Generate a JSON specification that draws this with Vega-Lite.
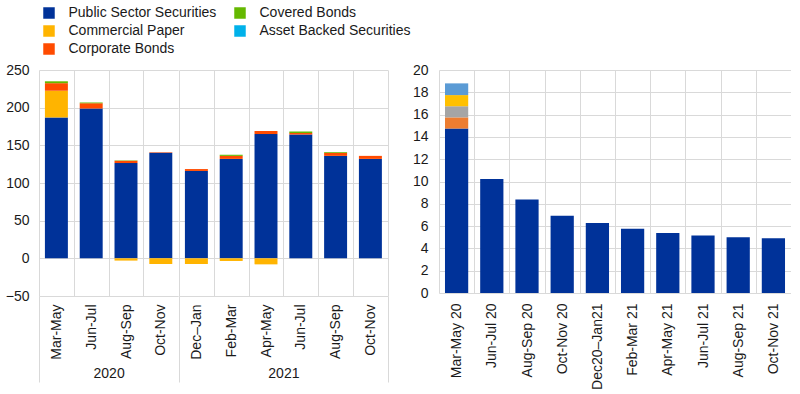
{
  "$schema": "https://vega.github.io/schema/vega-lite/v6.json",
  "padding": {"left": 5, "top": 6, "right": 0, "bottom": 0},
  "config": {
    "font": "Liberation Sans",
    "view": {"stroke": null},
    "axis": {"labelFont": "Liberation Sans", "labelFontSize": 14, "labelColor": "#1a1a1a", "gridColor": "#d9d9d9", "gridWidth": 1, "domain": false, "ticks": false, "titleFont": "Liberation Sans", "titleFontSize": 14, "titleFontWeight": "normal", "titleColor": "#1a1a1a", "minExtent": 0},
    "legend": {"labelFont": "Liberation Sans", "labelFontSize": 14, "labelColor": "#1a1a1a"}
  },
  "datasets": {
    "left": [
      {"year": 2020, "period": "Mar-May", "series": "Public Sector Securities", "k": 1, "value": 187},
      {"year": 2020, "period": "Mar-May", "series": "Commercial Paper", "k": 2, "value": 35.5},
      {"year": 2020, "period": "Mar-May", "series": "Corporate Bonds", "k": 3, "value": 10},
      {"year": 2020, "period": "Mar-May", "series": "Covered Bonds", "k": 4, "value": 2.5},
      {"year": 2020, "period": "Jun-Jul", "series": "Public Sector Securities", "k": 1, "value": 199},
      {"year": 2020, "period": "Jun-Jul", "series": "Corporate Bonds", "k": 3, "value": 7},
      {"year": 2020, "period": "Jun-Jul", "series": "Covered Bonds", "k": 4, "value": 1},
      {"year": 2020, "period": "Aug-Sep", "series": "Public Sector Securities", "k": 1, "value": 126.5},
      {"year": 2020, "period": "Aug-Sep", "series": "Commercial Paper", "k": 2, "value": -3},
      {"year": 2020, "period": "Aug-Sep", "series": "Corporate Bonds", "k": 3, "value": 3},
      {"year": 2020, "period": "Aug-Sep", "series": "Covered Bonds", "k": 4, "value": 0.5},
      {"year": 2020, "period": "Oct-Nov", "series": "Public Sector Securities", "k": 1, "value": 140},
      {"year": 2020, "period": "Oct-Nov", "series": "Commercial Paper", "k": 2, "value": -7.5},
      {"year": 2020, "period": "Oct-Nov", "series": "Corporate Bonds", "k": 3, "value": 0.7},
      {"year": 2021, "period": "Dec–Jan", "series": "Public Sector Securities", "k": 1, "value": 116},
      {"year": 2021, "period": "Dec–Jan", "series": "Commercial Paper", "k": 2, "value": -7.5},
      {"year": 2021, "period": "Dec–Jan", "series": "Corporate Bonds", "k": 3, "value": 2.5},
      {"year": 2021, "period": "Feb-Mar", "series": "Public Sector Securities", "k": 1, "value": 132},
      {"year": 2021, "period": "Feb-Mar", "series": "Commercial Paper", "k": 2, "value": -3.5},
      {"year": 2021, "period": "Feb-Mar", "series": "Corporate Bonds", "k": 3, "value": 4},
      {"year": 2021, "period": "Feb-Mar", "series": "Covered Bonds", "k": 4, "value": 1.5},
      {"year": 2021, "period": "Apr-May", "series": "Public Sector Securities", "k": 1, "value": 165},
      {"year": 2021, "period": "Apr-May", "series": "Commercial Paper", "k": 2, "value": -8},
      {"year": 2021, "period": "Apr-May", "series": "Corporate Bonds", "k": 3, "value": 4},
      {"year": 2021, "period": "Jun-Jul", "series": "Public Sector Securities", "k": 1, "value": 164.5},
      {"year": 2021, "period": "Jun-Jul", "series": "Corporate Bonds", "k": 3, "value": 2},
      {"year": 2021, "period": "Jun-Jul", "series": "Covered Bonds", "k": 4, "value": 2},
      {"year": 2021, "period": "Aug-Sep", "series": "Public Sector Securities", "k": 1, "value": 136},
      {"year": 2021, "period": "Aug-Sep", "series": "Corporate Bonds", "k": 3, "value": 4},
      {"year": 2021, "period": "Aug-Sep", "series": "Covered Bonds", "k": 4, "value": 1},
      {"year": 2021, "period": "Oct-Nov", "series": "Public Sector Securities", "k": 1, "value": 132},
      {"year": 2021, "period": "Oct-Nov", "series": "Corporate Bonds", "k": 3, "value": 4}
    ],
    "right": [
      {"period": "Mar-May 20", "series": "Public Sector Securities", "k": 1, "value": 14.75},
      {"period": "Mar-May 20", "series": "Commercial Paper", "k": 2, "value": 1.0},
      {"period": "Mar-May 20", "series": "Corporate Bonds", "k": 3, "value": 1.0},
      {"period": "Mar-May 20", "series": "Covered Bonds", "k": 4, "value": 1.0},
      {"period": "Mar-May 20", "series": "Asset Backed Securities", "k": 5, "value": 1.05},
      {"period": "Jun-Jul 20", "series": "Public Sector Securities", "k": 1, "value": 10.23},
      {"period": "Aug-Sep 20", "series": "Public Sector Securities", "k": 1, "value": 8.38},
      {"period": "Oct-Nov 20", "series": "Public Sector Securities", "k": 1, "value": 6.92},
      {"period": "Dec20–Jan21", "series": "Public Sector Securities", "k": 1, "value": 6.27},
      {"period": "Feb-Mar 21", "series": "Public Sector Securities", "k": 1, "value": 5.76},
      {"period": "Apr-May 21", "series": "Public Sector Securities", "k": 1, "value": 5.37},
      {"period": "Jun-Jul 21", "series": "Public Sector Securities", "k": 1, "value": 5.16},
      {"period": "Aug-Sep 21", "series": "Public Sector Securities", "k": 1, "value": 5.01},
      {"period": "Oct-Nov 21", "series": "Public Sector Securities", "k": 1, "value": 4.92}
    ]
  },
  "resolve": {"scale": {"color": "shared"}, "legend": {"color": "shared"}},
  "spacing": 23,
  "hconcat": [
    {
      "spacing": -8,
      "resolve": {"scale": {"y": "independent", "x": "independent", "color": "shared"}, "legend": {"color": "shared"}},
      "hconcat": [
        {
          "width": 139.2,
          "height": 226,
          "data": {"name": "left"},
          "transform": [{"filter": "datum.year == 2020"}],
          "mark": {"type": "bar", "width": {"band": 0.66}},
          "encoding": {
            "x": {"field": "period", "type": "nominal", "sort": ["Mar-May", "Jun-Jul", "Aug-Sep", "Oct-Nov"], "scale": {"paddingInner": 0, "paddingOuter": 0},
              "axis": {"title": "2020", "labelAngle": -90, "grid": true, "tickBand": "extent", "ticks": true, "tickSize": 86, "tickColor": "#d9d9d9",
                "tickOpacity": {"condition": {"test": "datum.index == -1", "value": 1}, "value": 0},
                "gridOpacity": {"condition": {"test": "datum.index == 1", "value": 0}, "value": 1},
                "labelPadding": -78, "titleY": 77, "titleBaseline": "middle"}},
            "y": {"field": "value", "type": "quantitative", "stack": true, "scale": {"domain": [-50, 250], "nice": false},
              "axis": {"title": null, "values": [-50, 0, 50, 100, 150, 200, 250], "labelPadding": 10}},
            "color": {"field": "series", "type": "nominal",
              "scale": {"domain": ["Public Sector Securities", "Commercial Paper", "Corporate Bonds", "Covered Bonds", "Asset Backed Securities"],
                "range": ["#003299", "#FFB400", "#FF4B00", "#65B800", "#00B1EA"]},
              "legend": {"title": null, "orient": "none", "legendX": 3, "legendY": -64, "columns": 2, "direction": "vertical", "symbolType": "square", "symbolSize": 132, "symbolStrokeWidth": 0, "labelOffset": 12.5, "rowPadding": 4, "columnPadding": 16, "padding": 0, "labelLimit": 0}},
            "order": {"field": "k", "type": "quantitative"}
          }
        },
        {
          "width": 208.8,
          "height": 226,
          "data": {"name": "left"},
          "transform": [{"filter": "datum.year == 2021"}],
          "mark": {"type": "bar", "width": {"band": 0.66}},
          "encoding": {
            "x": {"field": "period", "type": "nominal", "sort": ["Dec–Jan", "Feb-Mar", "Apr-May", "Jun-Jul", "Aug-Sep", "Oct-Nov"], "scale": {"paddingInner": 0, "paddingOuter": 0},
              "axis": {"title": "2021", "labelAngle": -90, "grid": true, "tickBand": "extent", "ticks": true, "tickSize": 86, "tickColor": "#d9d9d9",
                "tickOpacity": {"condition": {"test": "datum.index == -1 || datum.index == 1", "value": 1}, "value": 0},
                "labelPadding": -78, "titleY": 77, "titleBaseline": "middle"}},
            "y": {"field": "value", "type": "quantitative", "stack": true, "scale": {"domain": [-50, 250], "nice": false},
              "axis": {"title": null, "values": [-50, 0, 50, 100, 150, 200, 250], "labels": false, "labelPadding": 0, "minExtent": 0, "maxExtent": 0}},
            "color": {"field": "series", "type": "nominal",
              "scale": {"domain": ["Public Sector Securities", "Commercial Paper", "Corporate Bonds", "Covered Bonds", "Asset Backed Securities"],
                "range": ["#003299", "#FFB400", "#FF4B00", "#65B800", "#00B1EA"]}},
            "order": {"field": "k", "type": "quantitative"}
          }
        }
      ]
    },
    {
      "width": 352,
      "height": 223,
      "data": {"name": "right"},
      "mark": {"type": "bar", "width": {"band": 0.66}},
      "encoding": {
        "x": {"field": "period", "type": "nominal",
          "sort": ["Mar-May 20", "Jun-Jul 20", "Aug-Sep 20", "Oct-Nov 20", "Dec20–Jan21", "Feb-Mar 21", "Apr-May 21", "Jun-Jul 21", "Aug-Sep 21", "Oct-Nov 21"],
          "scale": {"paddingInner": 0, "paddingOuter": 0},
          "axis": {"title": null, "labelAngle": -90, "grid": true, "tickBand": "extent", "labelPadding": 10}},
        "y": {"field": "value", "type": "quantitative", "stack": true, "scale": {"domain": [0, 20], "nice": false},
          "axis": {"title": null, "values": [0, 2, 4, 6, 8, 10, 12, 14, 16, 18, 20], "labelPadding": 11}},
        "fill": {"field": "series", "type": "nominal",
          "scale": {"domain": ["Public Sector Securities", "Commercial Paper", "Corporate Bonds", "Covered Bonds", "Asset Backed Securities"],
            "range": ["#003299", "#ED7D31", "#A5A5A5", "#FFC000", "#5B9BD5"]},
          "legend": null},
        "order": {"field": "k", "type": "quantitative"}
      }
    }
  ]
}
